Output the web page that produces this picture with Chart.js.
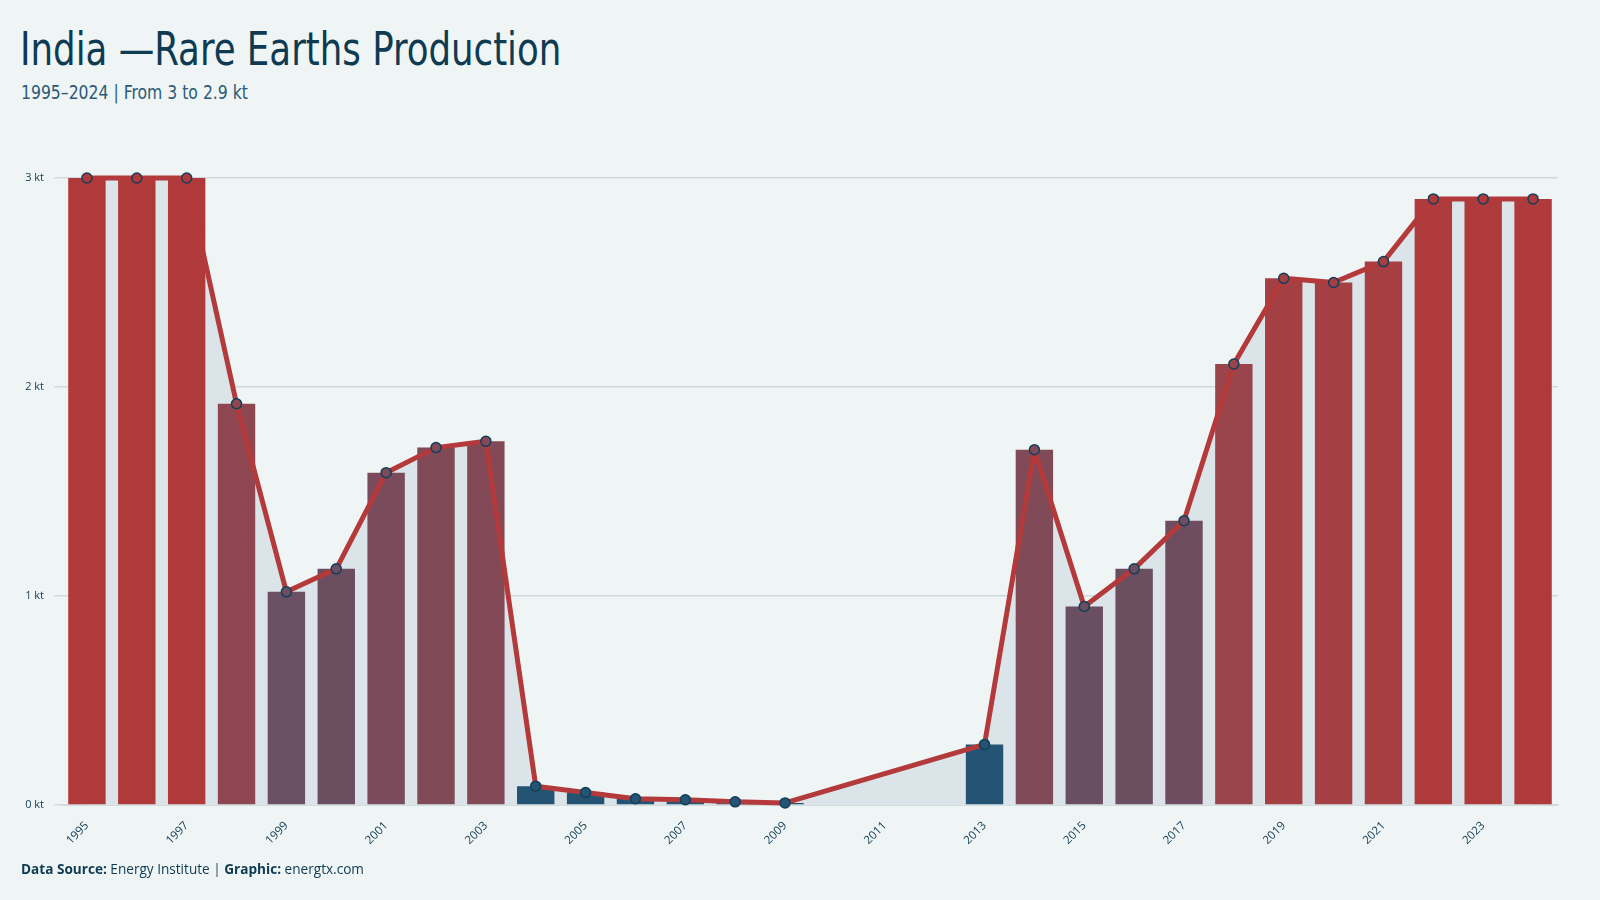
<!DOCTYPE html>
<html>
<head>
<meta charset="utf-8">
<title>India — Rare Earths Production</title>
<script src="https://cdn.jsdelivr.net/npm/chart.js@4.4.1/dist/chart.umd.min.js"></script>
<style>
  html, body { margin: 0; padding: 0; background: #eff5f5; }
  body { width: 1600px; height: 900px; position: relative; overflow: hidden; }
  .title {
    position: absolute; left: 20px; top: 22px; margin: 0; white-space: nowrap;
    font: 46px "DejaVu Sans Condensed", "Liberation Sans Narrow", sans-serif;
    color: #0e3a52; transform: scaleX(0.86); transform-origin: left top;
  }
  .subtitle {
    position: absolute; left: 21px; top: 80px; margin: 0; white-space: nowrap;
    font: 20px "DejaVu Sans Condensed", "Liberation Sans Narrow", sans-serif;
    color: #2c5a78; transform: scaleX(0.87); transform-origin: left top;
  }
  .footer {
    position: absolute; left: 21px; top: 859px; margin: 0;
    font: 13.6px "Open Sans", "Noto Sans", sans-serif; color: #0e3a52;
  }
  .footer b { font-weight: 700; }
  .footer .sep { color: #6d8796; font-weight: 700; }
  #wrap { position: absolute; left: 0; top: 0; width: 1600px; height: 900px; }
</style>
</head>
<body>
<h1 class="title">India —Rare Earths Production</h1>
<p class="subtitle">1995–2024 | From 3 to 2.9 kt</p>
<div id="wrap"><canvas id="chartRare"></canvas></div>
<p class="footer"><b>Data Source:</b> Energy Institute <span class="sep">|</span> <b>Graphic:</b> energtx.com</p>

<script>
'use strict';

/* ── DATA ── */
const YEARS = [1995,1996,1997,1998,1999,2000,2001,2002,2003,2004,2005,2006,2007,2008,2009,
               2010,2011,2012,2013,2014,2015,2016,2017,2018,2019,2020,2021,2022,2023,2024];
const PRODUCTION_KT = [3.0, 3.0, 3.0, 1.92, 1.02, 1.13, 1.59, 1.71, 1.74, 0.09, 0.06, 0.03, 0.025, 0.015, 0.01,
                       null, null, null, 0.29, 1.70, 0.95, 1.13, 1.36, 2.11, 2.52, 2.50, 2.60, 2.90, 2.90, 2.90];
const Y_TICKS = [0, 1, 2, 3];

/* colour scale: value (kt) -> colour stop */
const COLOR_STOP_VALUES = [0.3, 0.9, 1.4, 2.11, 3.0];
const COLOR_STOP_HEX    = ['#245373', '#6a4f62', '#6e4d60', '#9a454c', '#b0393a'];

/* ── Utilities ── */
function hexToRgb(hex) {
  return [parseInt(hex.slice(1,3),16), parseInt(hex.slice(3,5),16), parseInt(hex.slice(5,7),16)];
}
function valueColor(v) {
  if (v == null) return '#245373';
  const sv = COLOR_STOP_VALUES;
  if (v <= sv[0]) return COLOR_STOP_HEX[0];
  if (v >= sv[sv.length - 1]) return COLOR_STOP_HEX[sv.length - 1];
  let i = 0;
  while (v > sv[i + 1]) i++;
  const t = (v - sv[i]) / (sv[i + 1] - sv[i]);
  const a = hexToRgb(COLOR_STOP_HEX[i]), b = hexToRgb(COLOR_STOP_HEX[i + 1]);
  const c = a.map((x, k) => Math.round(x + (b[k] - x) * t));
  return `rgb(${c[0]},${c[1]},${c[2]})`;
}

const INK = '#0e3a52';
const barColors = PRODUCTION_KT.map(valueColor);

Chart.defaults.font.family = "'Open Sans', 'Noto Sans', sans-serif";
Chart.defaults.font.size = 11;
Chart.defaults.color = INK;

/* ── Chart ── */
new Chart(document.getElementById('chartRare'), {
  type: 'bar',
  data: {
    labels: YEARS,
    datasets: [
      {
        type: 'line',
        label: 'Production (kt)',
        data: PRODUCTION_KT,
        order: 1,
        borderColor: '#b3393b',
        borderWidth: 5,
        borderJoinStyle: 'round',
        backgroundColor: '#dae4e9',
        fill: 'origin',
        spanGaps: true,
        tension: 0,
        clip: false,
        pointRadius: 5,
        pointHoverRadius: 5,
        pointBackgroundColor: barColors,
        pointBorderColor: '#123f5a',
        pointBorderWidth: 1.5,
      },
      {
        type: 'bar',
        label: 'Production bars',
        data: PRODUCTION_KT,
        order: 2,
        backgroundColor: barColors,
        borderWidth: 0,
        barPercentage: 0.75,
        categoryPercentage: 1.0,
      },
    ],
  },
  options: {
    responsive: true,
    maintainAspectRatio: false,
    animation: false,
    layout: { padding: { top: 178, right: 42, bottom: 55, left: 0 } },
    plugins: {
      legend: { display: false },
      title: { display: false },
      tooltip: { enabled: false },
      filler: { drawTime: 'beforeDatasetsDraw' },
    },
    scales: {
      x: {
        offset: true,
        grid: { display: false },
        border: { display: true, color: '#d3dcdf', width: 1 },
        ticks: {
          autoSkip: false,
          minRotation: 45,
          maxRotation: 45,
          padding: 6,
          font: { size: 11.5 },
          color: INK,
          callback: (v, i) => (i % 2 === 0 ? YEARS[i] : ''),
        },
        afterFit: s => { s.height = 40; },
      },
      y: {
        min: 0,
        max: 3,
        afterBuildTicks: s => { s.ticks = Y_TICKS.map(v => ({ value: v })); },
        grid: { color: '#cfd9dd', lineWidth: 1.5, tickLength: 8, tickColor: '#d3dcdf' },
        border: { display: false },
        ticks: {
          padding: 10,
          font: { size: 11 },
          color: INK,
          callback: v => v + ' kt',
        },
        afterFit: s => { s.width = 62; },
      },
    },
  },
});
</script>
</body>
</html>
